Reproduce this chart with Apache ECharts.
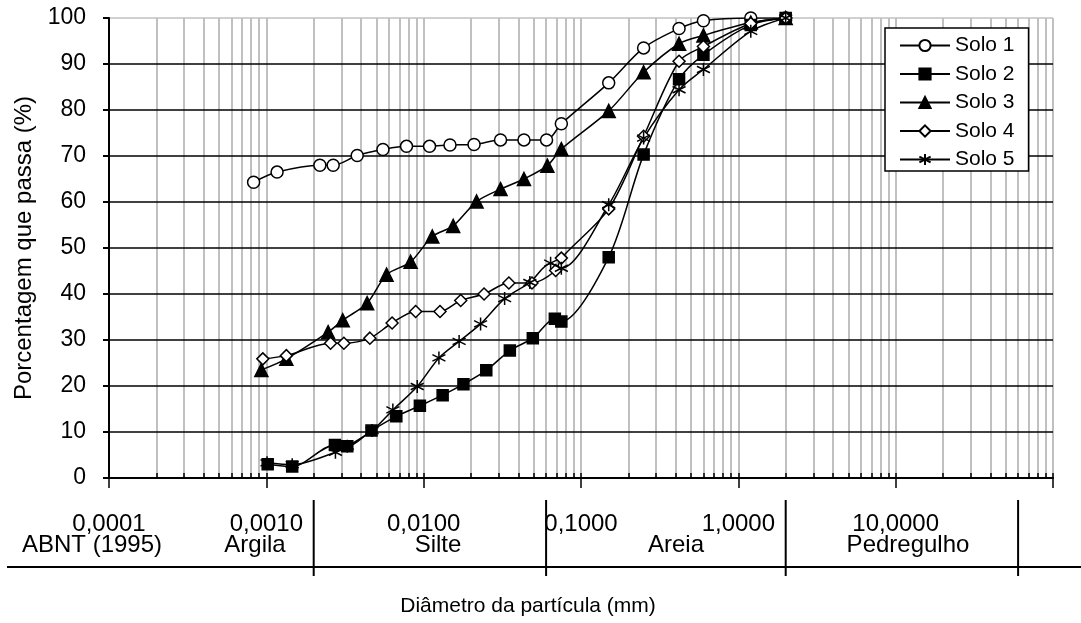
<!DOCTYPE html>
<html><head><meta charset="utf-8">
<script src="https://cdn.jsdelivr.net/npm/echarts@6/dist/echarts.min.js"></script>
<style>html,body{margin:0;padding:0;background:#fff}#c{width:1081px;height:623px}</style>
</head><body><div id="c"></div>
<script>
const seriesNames = ['Solo 1', 'Solo 2', 'Solo 3', 'Solo 4', 'Solo 5'];
const diam1 = [0.00083, 0.00117, 0.00219, 0.00266, 0.00378, 0.00551, 0.00778, 0.0109, 0.0147, 0.0209, 0.0308, 0.0434, 0.0604, 0.075, 0.15, 0.25, 0.42, 0.6, 1.2, 2.0];
const solo1 = [64.3, 66.5, 68.0, 68.0, 70.1, 71.4, 72.1, 72.1, 72.4, 72.5, 73.5, 73.5, 73.5, 77.0, 85.9, 93.5, 97.7, 99.4, 100, 100];
const diam2 = [0.00102, 0.00146, 0.00273, 0.00327, 0.00466, 0.0067, 0.00946, 0.0132, 0.0179, 0.025, 0.0353, 0.0494, 0.0682, 0.075, 0.15, 0.25, 0.42, 0.6, 1.2, 2.0];
const solo2 = [3.0, 2.5, 7.2, 6.9, 10.3, 13.4, 15.7, 18.0, 20.4, 23.4, 27.7, 30.4, 34.6, 34.0, 48.0, 70.3, 86.7, 92.0, 98.5, 100];
const diam3 = [0.00093, 0.00134, 0.00247, 0.00306, 0.00437, 0.00581, 0.00826, 0.01135, 0.0154, 0.0217, 0.0308, 0.0434, 0.0611, 0.075, 0.15, 0.25, 0.42, 0.6, 1.2, 2.0];
const solo3 = [23.5, 25.9, 31.7, 34.3, 38.0, 44.2, 47.0, 52.5, 54.8, 60.1, 62.8, 65.0, 67.9, 71.5, 79.8, 88.2, 94.4, 96.2, 99.0, 100];
const diam4 = [0.00095, 0.00134, 0.00256, 0.00311, 0.00455, 0.0063, 0.00889, 0.0127, 0.0172, 0.0242, 0.0348, 0.0488, 0.069, 0.075, 0.15, 0.25, 0.42, 0.6, 1.2, 2.0];
const solo4 = [25.9, 26.6, 29.3, 29.3, 30.4, 33.7, 36.2, 36.2, 38.6, 40.0, 42.4, 42.4, 45.1, 47.8, 58.5, 74.3, 90.6, 93.8, 98.8, 100];
const diam5 = [0.00101, 0.00146, 0.00275, 0.00327, 0.0047, 0.00637, 0.0091, 0.0125, 0.0168, 0.023, 0.0327, 0.0473, 0.0641, 0.075, 0.15, 0.25, 0.42, 0.6, 1.2, 2.0];
const solo5 = [3.3, 2.9, 5.6, 6.9, 10.3, 14.8, 19.9, 26.1, 29.7, 33.5, 39.0, 42.5, 46.7, 45.6, 59.4, 73.9, 84.4, 88.8, 97.1, 100];
const xTickValues = [0.0001, 0.001, 0.01, 0.1, 1, 10];
const xTickLabels = ['0,0001', '0,0010', '0,0100', '0,1000', '1,0000', '10,0000'];
const classNames = ['ABNT (1995)', 'Argila', 'Silte', 'Areia', 'Pedregulho'];
const classBounds = [0.002, 0.06, 2, 60];
const xTitle = 'Diâmetro da partícula (mm)';
const yTitle = 'Porcentagem que passa (%)';

const FONT = 'Liberation Sans, Arial, sans-serif';
const classLabelX = [92, 255, 438, 676, 908];

function pairs(xs, ys) { return xs.map((x, i) => [x, ys[i]]); }
function xLabel(v) {
  for (let i = 0; i < xTickValues.length; i++) {
    if (Math.abs(Math.log10(v) - Math.log10(xTickValues[i])) < 1e-6) return xTickLabels[i];
  }
  return '';
}

const asterisk = 'path://M6,0L6,12M0.8,3L11.2,9M0.8,9L11.2,3';
const styles = [
  { symbol: 'circle', size: 12, fill: '#fff' },
  { symbol: 'rect', size: 11, fill: '#000' },
  { symbol: 'triangle', size: 13, fill: '#000' },
  { symbol: 'diamond', size: 12, fill: '#fff' },
  { symbol: asterisk, size: 13, fill: '#000' }
];
const allData = [pairs(diam1, solo1), pairs(diam2, solo2), pairs(diam3, solo3), pairs(diam4, solo4), pairs(diam5, solo5)];

const chart = echarts.init(document.getElementById('c'), null, { renderer: 'canvas' });
const gridColor = '#c0c0c0';
const ySplitColors = [];
for (let i = 0; i < 10; i++) ySplitColors.push('#000');
ySplitColors.push(gridColor);

chart.setOption({
  animation: false,
  textStyle: { fontFamily: FONT },
  grid: { left: 109, right: 28, top: 18, bottom: 145, show: false },
  legend: {
    orient: 'vertical', left: 885, top: 28,
    padding: [7, 14, 1, 14], itemGap: 7.5, itemWidth: 50, itemHeight: 14,
    borderColor: '#000', borderWidth: 1.5, backgroundColor: '#fff',
    textStyle: { fontSize: 21, color: '#000', fontFamily: FONT },
    data: seriesNames
  },
  xAxis: [{
    type: 'log', logBase: 10, min: 0.0001, max: 100, z: 0,
    axisLine: { lineStyle: { color: '#000', width: 2 } },
    axisTick: { show: true, length: 10, lineStyle: { color: '#000', width: 1.5 } },
    minorTick: { show: false, splitNumber: 9 },
    splitLine: { show: true, lineStyle: { color: gridColor, width: 2 } },
    minorSplitLine: { show: true, lineStyle: { color: gridColor, width: 2 } },
    axisLabel: { fontSize: 24, color: '#000', margin: 34, fontFamily: FONT, formatter: xLabel }
  }, {
    type: 'log', logBase: 10, min: 0.0001, max: 100, position: 'bottom', z: 0,
    axisLine: { show: false }, axisLabel: { show: false }, splitLine: { show: false },
    axisTick: { show: true, inside: true, length: 5, lineStyle: { color: '#000', width: 1.5 } },
    minorTick: { show: true, splitNumber: 9, length: 5, lineStyle: { color: '#000', width: 1.5 } }
  }],
  yAxis: {
    type: 'value', min: 0, max: 100, interval: 10, z: 1,
    axisLine: { show: true, lineStyle: { color: '#000', width: 2 } },
    axisTick: { show: true, length: 6, lineStyle: { color: '#000', width: 2 } },
    splitLine: { show: true, lineStyle: { color: ySplitColors, width: 1.5 } },
    axisLabel: { fontSize: 23, color: '#000', margin: 23, fontFamily: FONT },
    name: yTitle, nameLocation: 'middle', nameGap: 68,
    nameTextStyle: { fontSize: 24, color: '#000', fontFamily: FONT }
  },
  series: seriesNames.map((n, i) => ({
    name: n, type: 'line', xAxisIndex: 0, data: allData[i],
    smooth: 0.3, symbol: styles[i].symbol, symbolSize: styles[i].size,
    lineStyle: { color: '#000', width: 1.5 },
    itemStyle: { color: styles[i].fill, borderColor: '#000', borderWidth: 1.5 },
    z: 3
  }))
});

const graphics = [];
graphics.push({ type: 'line', shape: { x1: 7, y1: 567, x2: 1081, y2: 567 }, style: { stroke: '#000', lineWidth: 2 }, z: 10 });
classBounds.forEach(b => {
  const px = chart.convertToPixel({ xAxisIndex: 0 }, b);
  graphics.push({ type: 'line', shape: { x1: px, y1: 500, x2: px, y2: 576 }, style: { stroke: '#000', lineWidth: 2 }, z: 10 });
});
classNames.forEach((t, i) => {
  graphics.push({ type: 'text', z: 10, style: { text: t, x: classLabelX[i], y: 545, align: 'center', verticalAlign: 'middle', fontSize: 24, fontFamily: FONT, fill: '#000' } });
});
graphics.push({ type: 'text', z: 10, style: { text: xTitle, x: 528, y: 606, align: 'center', verticalAlign: 'middle', fontSize: 21, fontFamily: FONT, fill: '#000' } });
chart.setOption({ graphic: graphics });
</script>
</body></html>
